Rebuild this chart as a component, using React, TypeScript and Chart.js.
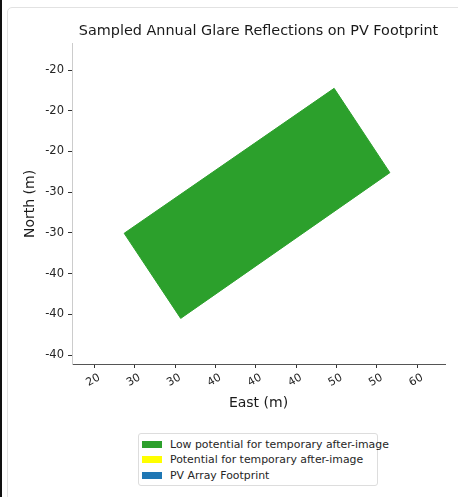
import React, { useEffect, useRef } from "react";
import { Chart, registerables } from "chart.js";

Chart.register(...registerables);

const chartTitle = "Sampled Annual Glare Reflections on PV Footprint";
const xAxisTitle = "East (m)";
const yAxisTitle = "North (m)";

// PV footprint corners (East, North) in metres
const footprintEast = [49.7, 56.6, 30.7, 23.7, 49.7];
const footprintNorth = [-17.25, -27.6, -45.5, -35.05, -17.25];

// tick positions and their printed labels
const xTickValues = [20, 25, 30, 35, 40, 45, 50, 55, 60];
const xTickLabels = ["20", "30", "30", "40", "40", "40", "50", "50", "60"];
const yTickValues = [-15, -20, -25, -30, -35, -40, -45, -50];
const yTickLabels = ["-20", "-20", "-20", "-30", "-30", "-40", "-40", "-40"];

const xRange = [17.24, 63.43];
const yRange = [-51.1, -11.8];

const legendLabels = [
  "Low potential for temporary after-image",
  "Potential for temporary after-image",
  "PV Array Footprint",
];
const legendColors = ["#2ca02c", "#ffff00", "#1f77b4"];

const FONT = "'DejaVu Sans', sans-serif";

export default function App() {
  const canvasRef = useRef<HTMLCanvasElement | null>(null);

  useEffect(() => {
    const canvas = canvasRef.current;
    if (!canvas) return;
    const points = footprintEast.map((x, i) => ({ x, y: footprintNorth[i] }));
    const chart = new Chart(canvas, {
      type: "scatter",
      data: {
        datasets: [
          {
            label: legendLabels[0],
            data: points,
            showLine: true,
            fill: "shape",
            backgroundColor: legendColors[0],
            borderColor: legendColors[0],
            borderWidth: 1,
            pointRadius: 0,
            tension: 0,
          } as any,
        ],
      },
      options: {
        responsive: false,
        animation: false,
        layout: { padding: { left: 0, right: 13, top: 0, bottom: 0 } },
        plugins: {
          legend: { display: false },
          tooltip: { enabled: false },
          title: {
            display: true,
            fullSize: false,
            text: chartTitle,
            color: "#1a1a1a",
            font: { family: FONT, size: 14.4, weight: "normal" },
            padding: { top: 22.6, bottom: 4.1 },
          },
        },
        scales: {
          x: {
            type: "linear",
            min: xRange[0],
            max: xRange[1],
            afterBuildTicks: (scale: any) => {
              scale.ticks = xTickValues.map((v) => ({ value: v }));
            },
            afterFit: (scale: any) => {
              scale.height = 56;
            },
            ticks: {
              minRotation: 30,
              maxRotation: 30,
              autoSkip: false,
              color: "#262626",
              padding: 3,
              labelOffset: 5,
              font: { family: FONT, size: 11 },
              callback: (v: any) => {
                const i = xTickValues.indexOf(Number(v));
                return i >= 0 ? xTickLabels[i] : "";
              },
            },
            grid: {
              drawOnChartArea: false,
              drawTicks: true,
              tickLength: 4,
              tickColor: "#333333",
            },
            border: { display: true, color: "#555555", width: 1 },
            title: {
              display: true,
              text: xAxisTitle,
              color: "#1a1a1a",
              font: { family: FONT, size: 14 },
              padding: { top: 0, bottom: 8.6 },
            },
          },
          y: {
            type: "linear",
            min: yRange[0],
            max: yRange[1],
            afterBuildTicks: (scale: any) => {
              scale.ticks = yTickValues.map((v) => ({ value: v }));
            },
            afterFit: (scale: any) => {
              scale.width = 72;
            },
            ticks: {
              autoSkip: false,
              color: "#262626",
              padding: 4,
              font: { family: FONT, size: 11.5 },
              callback: (v: any) => {
                const i = yTickValues.indexOf(Number(v));
                return i >= 0 ? yTickLabels[i] : "";
              },
            },
            grid: {
              drawOnChartArea: false,
              drawTicks: true,
              tickLength: 4,
              tickColor: "#333333",
            },
            border: { display: true, color: "#cccccc", width: 1 },
            title: {
              display: true,
              text: yAxisTitle,
              color: "#1a1a1a",
              font: { family: FONT, size: 14 },
              padding: { top: 21.6, bottom: 0 },
            },
          },
        },
      },
    });
    return () => chart.destroy();
  }, []);

  return (
    <div
      style={{
        position: "fixed",
        left: 0,
        top: 0,
        width: 458,
        height: 497,
        background: "#ffffff",
        overflow: "hidden",
      }}
    >
      <div
        style={{
          position: "absolute",
          left: 0,
          top: 0,
          width: 2,
          height: 497,
          background: "#111111",
        }}
      />
      <div
        style={{
          position: "absolute",
          left: 7,
          top: 7,
          width: 470,
          height: 510,
          border: "1px solid #e2e2e2",
          borderRadius: 5,
          boxSizing: "border-box",
        }}
      />
      <canvas
        ref={canvasRef}
        width={458}
        height={420}
        style={{ position: "absolute", left: 0, top: 0, width: 458, height: 420 }}
      />
      <div
        style={{
          position: "absolute",
          left: 138,
          top: 433,
          width: 240,
          height: 53,
          border: "1px solid #dddddd",
          borderRadius: 3,
          boxSizing: "border-box",
          fontFamily: FONT,
          fontSize: 10.9,
          color: "#262626",
        }}
      >
        {legendLabels.map((lab, i) => (
          <div
            key={lab}
            style={{
              position: "absolute",
              left: 0,
              top: 2.5 + i * 15.7,
              height: 15,
              width: 238,
              display: "flex",
              alignItems: "center",
              whiteSpace: "nowrap",
            }}
          >
            <span
              style={{
                display: "inline-block",
                flex: "none",
                marginLeft: 3,
                width: 20,
                height: 7,
                background: legendColors[i],
              }}
            />
            <span style={{ marginLeft: 8, lineHeight: "15px" }}>{lab}</span>
          </div>
        ))}
      </div>
    </div>
  );
}
